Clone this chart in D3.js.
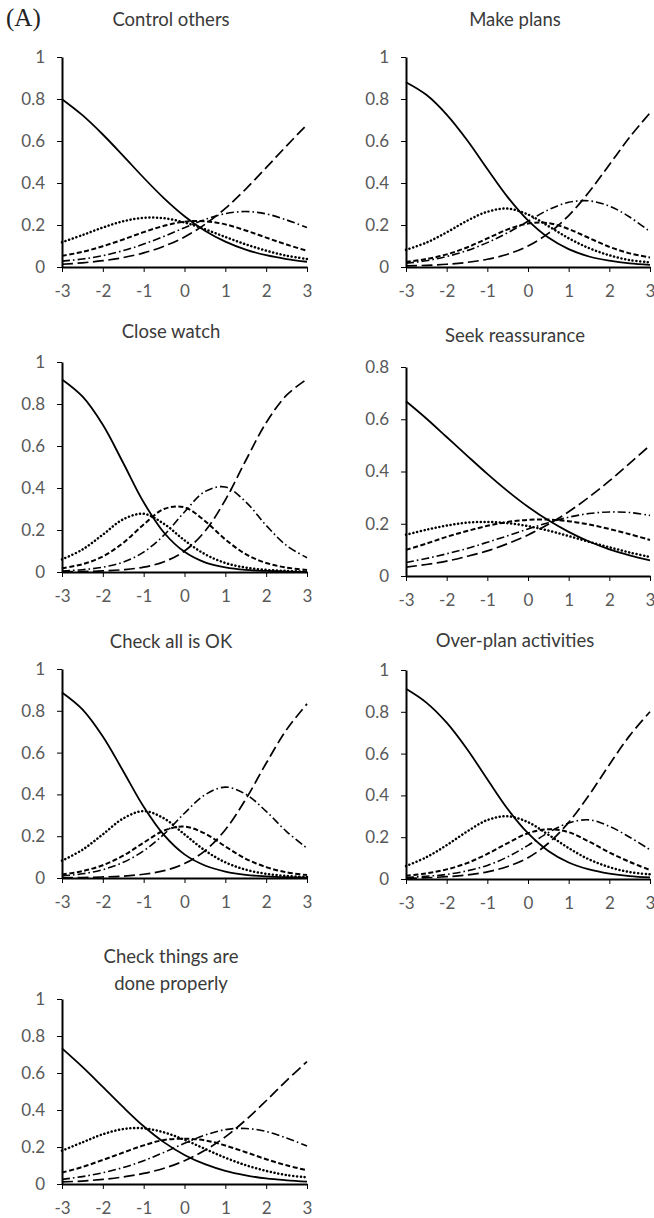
<!DOCTYPE html>
<html>
<head>
<meta charset="utf-8">
<script src="https://cdn.jsdelivr.net/npm/d3@7"></script>
<style>
  body { margin: 0; background: #fff; }
  svg { display: block; }
  .tick text { font-family: Lato, "Noto Sans", sans-serif; font-size: 17px; fill: #595959; }
  .title { font-family: Lato, "Noto Sans", sans-serif; font-size: 18.5px; fill: #3a3a3a; text-anchor: middle; }
</style>
</head>
<body>
<script>
"use strict";

// latent trait values where the curves were read
var theta = [-3, -2.5, -2, -1.5, -1, -0.5, 0, 0.5, 1, 1.5, 2, 2.5, 3];
var xTicks = [-3, -2, -1, 0, 1, 2, 3];
var yTicksFull = [0, 0.2, 0.4, 0.6, 0.8, 1];
var yTicksShort = [0, 0.2, 0.4, 0.6, 0.8];

var titles = ["Control others", "Make plans", "Close watch", "Seek reassurance",
  "Check all is OK", "Over-plan activities", ["Check things are", "done properly"]];
var yMaxes = [1, 1, 1, 0.8, 1, 1, 1];

// one row per response category: solid, dotted, short dash, dash-dot, long dash
var controlOthers = [
  [0.799, 0.723, 0.631, 0.529, 0.425, 0.327, 0.242, 0.173, 0.121, 0.083, 0.056, 0.038, 0.025],
  [0.118, 0.152, 0.188, 0.218, 0.234, 0.232, 0.212, 0.180, 0.143, 0.108, 0.078, 0.054, 0.038],
  [0.053, 0.072, 0.099, 0.131, 0.166, 0.196, 0.216, 0.218, 0.203, 0.174, 0.140, 0.107, 0.077],
  [0.028, 0.038, 0.054, 0.078, 0.109, 0.146, 0.187, 0.226, 0.254, 0.264, 0.253, 0.224, 0.188],
  [0.013, 0.020, 0.030, 0.045, 0.067, 0.099, 0.143, 0.203, 0.279, 0.371, 0.473, 0.577, 0.678]
];
var makePlans = [
  [0.880, 0.820, 0.726, 0.605, 0.467, 0.333, 0.222, 0.140, 0.085, 0.050, 0.030, 0.017, 0.010],
  [0.082, 0.116, 0.165, 0.220, 0.263, 0.278, 0.250, 0.195, 0.137, 0.090, 0.056, 0.033, 0.022],
  [0.024, 0.038, 0.060, 0.093, 0.136, 0.179, 0.207, 0.209, 0.181, 0.138, 0.096, 0.065, 0.045],
  [0.018, 0.030, 0.050, 0.078, 0.116, 0.163, 0.218, 0.272, 0.308, 0.315, 0.290, 0.238, 0.168],
  [0.005, 0.008, 0.013, 0.022, 0.037, 0.061, 0.100, 0.160, 0.245, 0.357, 0.487, 0.618, 0.734]
];
var closeWatch = [
  [0.917, 0.836, 0.701, 0.519, 0.332, 0.187, 0.096, 0.046, 0.022, 0.010, 0.005, 0.002, 0.001],
  [0.060, 0.107, 0.178, 0.251, 0.277, 0.229, 0.151, 0.085, 0.043, 0.021, 0.010, 0.005, 0.002],
  [0.018, 0.037, 0.074, 0.139, 0.226, 0.300, 0.308, 0.243, 0.155, 0.085, 0.043, 0.021, 0.010],
  [0.005, 0.011, 0.023, 0.047, 0.095, 0.176, 0.286, 0.383, 0.405, 0.334, 0.222, 0.126, 0.068],
  [0.001, 0.002, 0.005, 0.011, 0.023, 0.049, 0.100, 0.194, 0.343, 0.531, 0.711, 0.842, 0.919]
];
var seekReassurance = [
  [0.669, 0.603, 0.532, 0.461, 0.391, 0.325, 0.265, 0.213, 0.169, 0.132, 0.102, 0.079, 0.060],
  [0.158, 0.177, 0.193, 0.204, 0.207, 0.202, 0.191, 0.174, 0.153, 0.131, 0.110, 0.090, 0.073],
  [0.100, 0.124, 0.150, 0.172, 0.192, 0.207, 0.215, 0.216, 0.210, 0.197, 0.180, 0.160, 0.138],
  [0.052, 0.067, 0.085, 0.105, 0.129, 0.154, 0.180, 0.204, 0.225, 0.239, 0.245, 0.243, 0.232],
  [0.034, 0.044, 0.057, 0.075, 0.096, 0.124, 0.157, 0.198, 0.246, 0.302, 0.364, 0.431, 0.500]
];
var checkAllOk = [
  [0.888, 0.807, 0.677, 0.511, 0.341, 0.205, 0.113, 0.060, 0.031, 0.015, 0.008, 0.004, 0.002],
  [0.083, 0.135, 0.209, 0.285, 0.320, 0.285, 0.209, 0.132, 0.075, 0.040, 0.020, 0.010, 0.005],
  [0.017, 0.033, 0.061, 0.107, 0.169, 0.227, 0.246, 0.213, 0.151, 0.092, 0.052, 0.027, 0.014],
  [0.010, 0.020, 0.040, 0.075, 0.130, 0.210, 0.310, 0.398, 0.435, 0.401, 0.319, 0.222, 0.143],
  [0.001, 0.002, 0.005, 0.009, 0.018, 0.035, 0.069, 0.130, 0.231, 0.377, 0.549, 0.710, 0.833]
];
var overPlan = [
  [0.910, 0.844, 0.748, 0.622, 0.477, 0.335, 0.219, 0.134, 0.079, 0.046, 0.026, 0.014, 0.008],
  [0.062, 0.104, 0.162, 0.227, 0.282, 0.300, 0.272, 0.212, 0.148, 0.094, 0.057, 0.033, 0.022],
  [0.015, 0.027, 0.046, 0.076, 0.120, 0.172, 0.219, 0.238, 0.224, 0.179, 0.127, 0.082, 0.043],
  [0.007, 0.013, 0.022, 0.039, 0.065, 0.106, 0.161, 0.222, 0.268, 0.283, 0.252, 0.200, 0.140],
  [0.003, 0.006, 0.011, 0.019, 0.034, 0.060, 0.102, 0.171, 0.271, 0.401, 0.547, 0.686, 0.800]
];
var checkProperly = [
  [0.733, 0.633, 0.525, 0.415, 0.312, 0.225, 0.157, 0.107, 0.071, 0.047, 0.030, 0.020, 0.013],
  [0.180, 0.225, 0.269, 0.297, 0.301, 0.279, 0.239, 0.190, 0.142, 0.102, 0.071, 0.048, 0.036],
  [0.062, 0.092, 0.130, 0.170, 0.209, 0.238, 0.245, 0.236, 0.208, 0.172, 0.134, 0.101, 0.074],
  [0.025, 0.040, 0.061, 0.089, 0.126, 0.171, 0.220, 0.264, 0.294, 0.300, 0.284, 0.248, 0.206],
  [0.011, 0.016, 0.025, 0.038, 0.057, 0.085, 0.126, 0.182, 0.255, 0.346, 0.450, 0.559, 0.662]
];

var seriesByPanel = [controlOthers, makePlans, closeWatch, seekReassurance, checkAllOk, overPlan, checkProperly];

// plot frames in page pixels (left, right, top, bottom of the axes)
var frames = [
  {x0: 62, x1: 307, y0: 57, y1: 267, tx: 171, ty: [26]},
  {x0: 406, x1: 650, y0: 57, y1: 267, tx: 515, ty: [26]},
  {x0: 62, x1: 307, y0: 362, y1: 572, tx: 171, ty: [338]},
  {x0: 406, x1: 650, y0: 367, y1: 576, tx: 515, ty: [342]},
  {x0: 62, x1: 307, y0: 669, y1: 878, tx: 171, ty: [648]},
  {x0: 406, x1: 650, y0: 670, y1: 879, tx: 515, ty: [647]},
  {x0: 62, x1: 307, y0: 999, y1: 1184, tx: 171, ty: [963, 990]}
];

var lineStyles = [
  {dash: null, width: 1.8, cap: 'butt'},
  {dash: '0.1,3.7', width: 2.5, cap: 'round'},
  {dash: '5,2.5', width: 2.0, cap: 'butt'},
  {dash: '8,3,1.6,3', width: 1.6, cap: 'butt'},
  {dash: '11,4.5', width: 1.7, cap: 'butt'}
];

var svg = d3.select('body').append('svg').attr('width', 654).attr('height', 1218);

svg.append('text')
  .attr('x', 6).attr('y', 26)
  .style('font-family', '"Liberation Serif", "DejaVu Serif", serif')
  .style('font-size', '25px')
  .style('fill', '#222')
  .text('(A)');

seriesByPanel.forEach(function(series, i) {
  var f = frames[i],
    yMax = yMaxes[i],
    g = svg.append('g');

  var x = d3.scaleLinear().domain([-3, 3]).range([f.x0, f.x1]);
  var y = d3.scaleLinear().domain([0, yMax]).range([f.y1, f.y0]);

  var line = d3.line()
    .x(function(d, j) { return x(theta[j]); })
    .y(function(d) { return y(d); })
    .curve(d3.curveCatmullRom.alpha(0.5));

  g.selectAll('path.curve').data(series).enter().append('path')
    .attr('class', 'curve')
    .attr('d', line)
    .attr('fill', 'none')
    .attr('stroke', '#000')
    .attr('stroke-width', function(d, k) { return lineStyles[k].width; })
    .attr('stroke-linecap', function(d, k) { return lineStyles[k].cap; })
    .attr('stroke-dasharray', function(d, k) { return lineStyles[k].dash; });

  var yAxis = g.append('g')
    .attr('transform', 'translate(' + f.x0 + ',0)')
    .call(d3.axisLeft(y)
      .tickValues(yMax === 1 ? yTicksFull : yTicksShort)
      .tickSizeInner(5).tickSizeOuter(0).tickPadding(12)
      .tickFormat(function(d) { return String(d); }));

  var xAxis = g.append('g')
    .attr('transform', 'translate(0,' + f.y1 + ')')
    .call(d3.axisBottom(x)
      .tickValues(xTicks)
      .tickSizeInner(5).tickSizeOuter(0).tickPadding(13)
      .tickFormat(function(d) { return String(d); }));

  [yAxis, xAxis].forEach(function(ax) {
    ax.attr('font-family', null).attr('font-size', null);
    ax.select('.domain').attr('stroke', '#000').attr('stroke-width', 2);
    ax.selectAll('.tick line').attr('stroke', '#000').attr('stroke-width', 1);
  });

  var t = titles[i],
    lines = Array.isArray(t) ? t : [t];
  lines.forEach(function(txt, k) {
    svg.append('text').attr('class', 'title')
      .attr('x', f.tx).attr('y', f.ty[k])
      .text(txt);
  });
});
</script>
</body>
</html>
